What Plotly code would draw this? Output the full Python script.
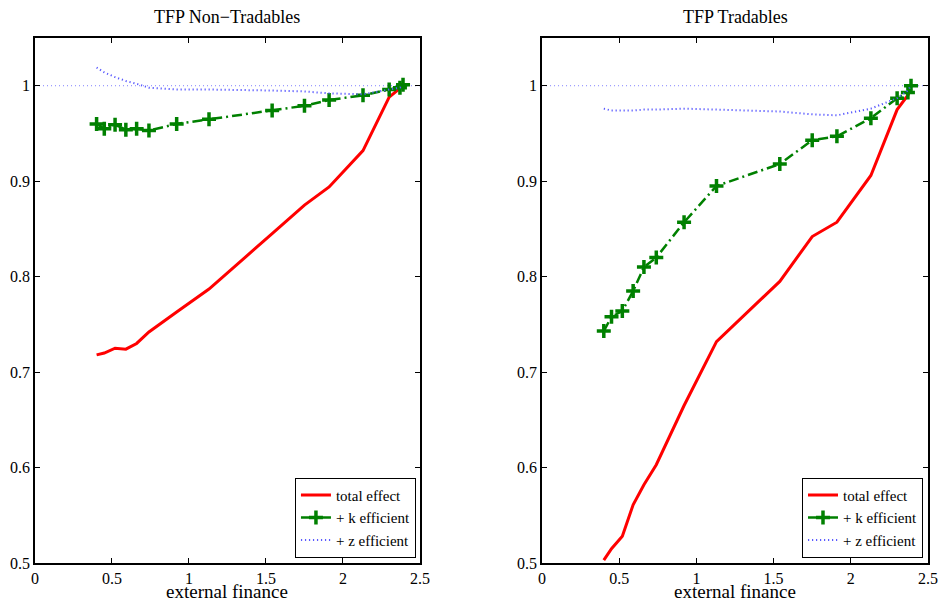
import plotly.graph_objects as go
from plotly.subplots import make_subplots

# ---- data ----
ext_fin = [0.40, 0.45, 0.52, 0.59, 0.66, 0.74, 0.92, 1.13, 1.54, 1.75, 1.91, 2.13, 2.30, 2.37, 2.39]

nt_total = [0.718, 0.720, 0.725, 0.724, 0.730, 0.742, 0.763, 0.787, 0.845, 0.875, 0.894, 0.932, 0.988, 0.997, 1.000]
nt_k_eff = [0.960, 0.955, 0.959, 0.954, 0.955, 0.953, 0.960, 0.965, 0.974, 0.979, 0.985, 0.990, 0.996, 0.998, 1.001]
nt_z_eff = [1.019, 1.014, 1.009, 1.005, 1.002, 0.998, 0.996, 0.996, 0.995, 0.994, 0.992, 0.991, 0.996, 0.998, 1.000]

t_total = [0.503, 0.515, 0.528, 0.561, 0.582, 0.603, 0.665, 0.732, 0.795, 0.842, 0.857, 0.906, 0.975, 0.990, 0.997]
t_k_eff = [0.743, 0.758, 0.764, 0.785, 0.810, 0.820, 0.857, 0.895, 0.918, 0.943, 0.947, 0.966, 0.987, 0.993, 1.000]
t_z_eff = [0.976, 0.974, 0.974, 0.974, 0.975, 0.975, 0.976, 0.975, 0.973, 0.970, 0.969, 0.976, 0.987, 0.995, 1.000]

ref_x = [0, 2.5]
ref_y = [1, 1]

titles = ["TFP Non\u2212Tradables", "TFP Tradables"]
x_title = "external finance"
series_names = ["total effect", "+ k efficient", "+ z efficient"]
x_ticks = [0, 0.5, 1, 1.5, 2, 2.5]
x_tick_labels = ["0", "0.5", "1", "1.5", "2", "2.5"]
y_ticks = [0.5, 0.6, 0.7, 0.8, 0.9, 1.0]
y_tick_labels = ["0.5", "0.6", "0.7", "0.8", "0.9", "1"]

FONT = "Liberation Serif"
L_DOM = [0, 0.4311]
R_DOM = [0.5678, 1.0]

fig = make_subplots(rows=1, cols=2)
fig.update_xaxes(domain=L_DOM, row=1, col=1)
fig.update_xaxes(domain=R_DOM, row=1, col=2)

panels = [(nt_total, nt_k_eff, nt_z_eff, "legend"), (t_total, t_k_eff, t_z_eff, "legend2")]
for i, (tot, kef, zef, lg) in enumerate(panels, start=1):
    fig.add_trace(go.Scatter(x=ref_x, y=ref_y, mode="lines", showlegend=False,
                             line=dict(color="#8080ff", width=1, dash="1px,3px"),
                             hoverinfo="skip"), row=1, col=i)
    fig.add_trace(go.Scatter(x=ext_fin, y=tot, mode="lines", name=series_names[0],
                             legend=lg, line=dict(color="#ff0000", width=3)), row=1, col=i)
    fig.add_trace(go.Scatter(x=ext_fin, y=kef, mode="lines+markers", name=series_names[1],
                             legend=lg, line=dict(color="#008000", width=2.5, dash="10px,4px,2px,4px"),
                             marker=dict(symbol="cross-thin", size=10,
                                         line=dict(color="#008000", width=3.5))), row=1, col=i)
    fig.add_trace(go.Scatter(x=ext_fin, y=zef, mode="lines", name=series_names[2],
                             legend=lg, line=dict(color="#5a5aff", width=2, dash="1.2px,2.8px")),
                  row=1, col=i)

axis_common = dict(showline=True, linecolor="black", linewidth=1.5, mirror="allticks",
                   ticks="inside", ticklen=5, tickcolor="black", showgrid=False, zeroline=False,
                   automargin=False,
                   tickfont=dict(family=FONT, size=16, color="black"))
for i in (1, 2):
    fig.update_xaxes(range=[0, 2.5], tickvals=x_ticks, ticktext=x_tick_labels,
                     row=1, col=i, **axis_common)
    fig.update_yaxes(range=[0.5, 1.05], tickvals=y_ticks, ticktext=y_tick_labels,
                     row=1, col=i, **axis_common)

centers = [sum(L_DOM) / 2, sum(R_DOM) / 2]
for c, t in zip(centers, titles):
    fig.add_annotation(text=t, x=c, y=1.0, xref="paper", yref="paper", xanchor="center",
                       yanchor="bottom", yshift=9, showarrow=False,
                       font=dict(family=FONT, size=18, color="black"))
    fig.add_annotation(text=x_title, x=c, y=-37 / 525, xref="paper", yref="paper",
                       xanchor="center", yanchor="bottom", yshift=-4, showarrow=False,
                       font=dict(family=FONT, size=19, color="black"))

legend_style = dict(bgcolor="white", bordercolor="black", borderwidth=1,
                    font=dict(family=FONT, size=15, color="black"),
                    xanchor="right", yanchor="bottom", tracegroupgap=0, itemwidth=30)
fig.update_layout(
    legend=dict(x=0.4266, y=0.01, **legend_style),
    legend2=dict(x=0.9944, y=0.01, **legend_style),
    width=938, height=600,
    margin=dict(l=35, r=10, t=38, b=37),
    paper_bgcolor="white", plot_bgcolor="white",
    font=dict(family=FONT, color="black"),
)

fig.write_html("out.html", config={"displayModeBar": False},
               post_script="document.body.style.margin='0';document.body.style.overflow='hidden';")
